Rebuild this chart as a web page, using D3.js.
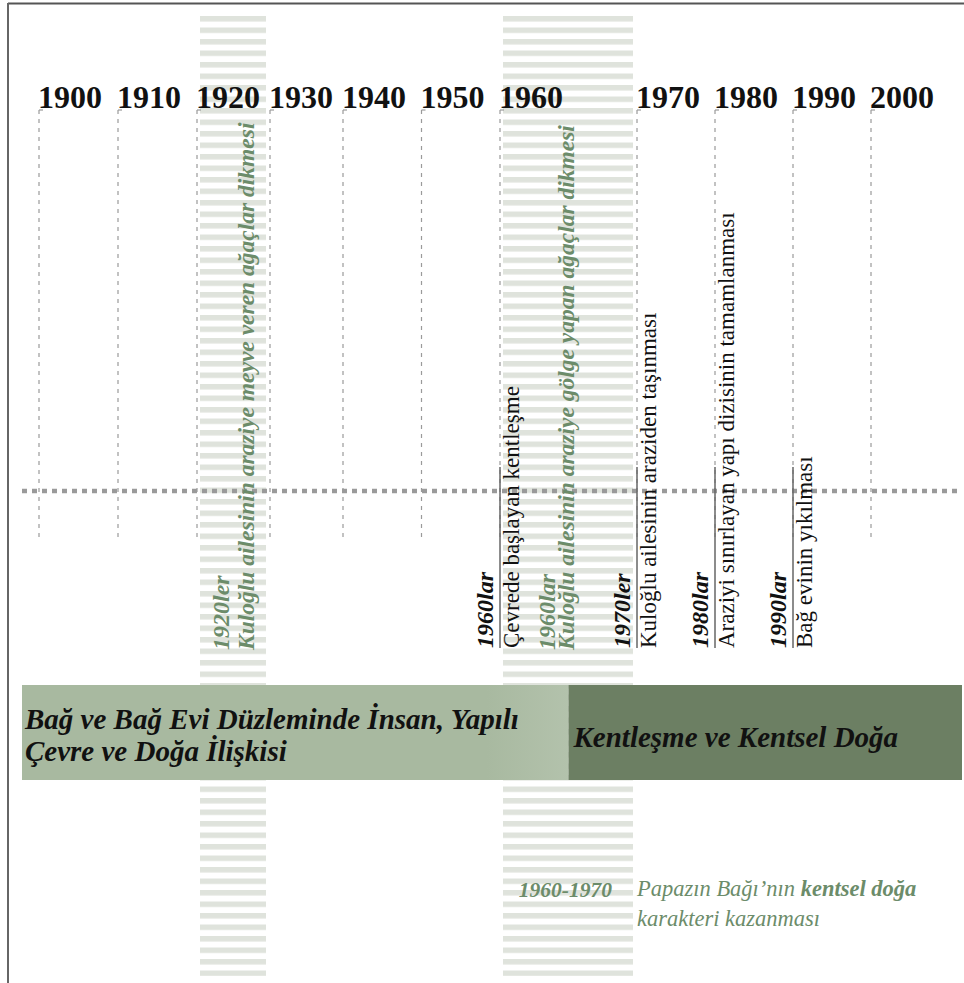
<!DOCTYPE html>
<html>
<head>
<meta charset="utf-8">
<script src="https://cdn.jsdelivr.net/npm/d3@7"></script>
<style>
  html, body { margin: 0; padding: 0; background: #fff; }
  svg { display: block; }
  text { font-family: 'Liberation Serif', 'Times New Roman', serif; }
</style>
</head>
<body>
<svg id="chart" width="964" height="983"></svg>
<script>
// decade ticks across the top
const years = [1900, 1910, 1920, 1930, 1940, 1950, 1960, 1970, 1980, 1990, 2000]

// striped decades
const bandStarts = [1920, 1960]
const bandEnds = [1930, 1970]

// black events (below the dotted axis)
const eventYears = [1960, 1970, 1980, 1990]
const eventLabels = ['1960lar', '1970ler', '1980lar', '1990lar']
const eventTexts = [
  'Çevrede başlayan kentleşme',
  'Kuloğlu ailesinin araziden taşınması',
  'Araziyi sınırlayan yapı dizisinin tamamlanması',
  'Bağ evinin yıkılması',
]

// green (planting) events
const plantYears = [1920, 1960]
const plantLabels = ['1920ler', '1960lar']
const plantTexts = [
  'Kuloğlu ailesinin araziye meyve veren ağaçlar dikmesi',
  'Kuloğlu ailesinin araziye gölge yapan ağaçlar dikmesi',
]

// two phases
const phaseSplitYear = 1965
const phaseLines = [
  ['Bağ ve Bağ Evi Düzleminde İnsan, Yapılı', 'Çevre ve Doğa İlişkisi'],
  ['Kentleşme ve Kentsel Doğa'],
]

// note at the bottom
const noteYears = '1960-1970'
const notePlain = 'Papazın Bağı’nın '
const noteBold = 'kentsel doğa'
const noteLine2 = 'karakteri kazanması'

const GREEN = '#6c8c6a'
const svg = d3.select('#chart')

// the 1960s get more room than the other decades
const x = d3.scaleLinear()
  .domain([1900, 1920, 1940, 1960, 1970, 2000])
  .range([39, 197, 343, 500, 637, 871])

const axisY = 491
const lineTop = 110
const lineBottom = 540
const eventTop = 467
const eventBottom = 648

/* frame */
svg.append('line').attr('x1', 8).attr('x2', 964).attr('y1', 3.5).attr('y2', 3.5)
  .attr('stroke', '#555').attr('stroke-width', 2)
svg.append('line').attr('x1', 8).attr('x2', 8).attr('y1', 3).attr('y2', 983)
  .attr('stroke', '#666').attr('stroke-width', 2)

/* stripes */
const defs = svg.append('defs')
const pat = defs.append('pattern')
  .attr('id', 'stripes')
  .attr('patternUnits', 'userSpaceOnUse')
  .attr('width', 10).attr('height', 11.5)
  .attr('y', 16)
pat.append('rect').attr('width', 10).attr('height', 5.5).attr('fill', '#dfe3dc')

svg.append('g').selectAll('rect')
  .data(bandStarts)
  .join('rect')
  .attr('x', (d) => x(d) + 3)
  .attr('width', (d, i) => x(bandEnds[i]) - 4 - (x(d) + 3))
  .attr('y', 16)
  .attr('height', 960)
  .attr('fill', 'url(#stripes)')

/* decade lines and labels */
const ticks = svg.append('g')
ticks.selectAll('line.grid')
  .data(years)
  .join('line')
  .attr('class', 'grid')
  .attr('x1', (d) => x(d)).attr('x2', (d) => x(d))
  .attr('y1', lineTop).attr('y2', lineBottom)
  .attr('stroke', '#9a9a9a')
  .attr('stroke-width', 1.2)
  .attr('stroke-dasharray', '4 5')
ticks.selectAll('line.corner')
  .data(years)
  .join('line')
  .attr('class', 'corner')
  .attr('x1', (d) => x(d)).attr('x2', (d) => x(d) + 4)
  .attr('y1', lineTop).attr('y2', lineTop)
  .attr('stroke', '#9a9a9a')
  .attr('stroke-width', 1.2)
ticks.selectAll('text')
  .data(years)
  .join('text')
  .attr('x', (d) => x(d) - 1)
  .attr('y', 108)
  .attr('font-size', 32)
  .attr('font-weight', 'bold')
  .attr('fill', '#111')
  .text((d) => d)

/* dotted axis */
svg.append('line')
  .attr('x1', 22).attr('x2', 960)
  .attr('y1', axisY).attr('y2', axisY)
  .attr('stroke', '#9a9a9a')
  .attr('stroke-width', 4.5)
  .attr('stroke-dasharray', '5 5')

/* rotated text helper */
const vtext = (g, bx, by, str, opts) =>
  g.append('text')
    .attr('transform', `translate(${bx},${by}) rotate(-90)`)
    .attr('font-size', opts.size)
    .attr('font-weight', opts.bold ? 'bold' : 'normal')
    .attr('font-style', opts.italic ? 'italic' : 'normal')
    .attr('fill', opts.fill)
    .text(str)

/* green planting events */
const plants = svg.append('g')
plantYears.forEach((yr, i) => {
  const shared = eventYears.includes(yr)
  const lx = x(yr) + (shared ? 55 : 32)
  const gap = shared ? 19 : 25
  vtext(plants, lx, 650, plantLabels[i], {size: 24, bold: true, italic: true, fill: GREEN})
  vtext(plants, lx + gap, 650, plantTexts[i], {size: 23.5, bold: true, italic: true, fill: GREEN})
})

/* black events */
const events = svg.append('g')
events.selectAll('line')
  .data(eventYears)
  .join('line')
  .attr('x1', (d) => x(d)).attr('x2', (d) => x(d))
  .attr('y1', eventTop).attr('y2', eventBottom)
  .attr('stroke', '#666')
  .attr('stroke-width', 1.5)
eventYears.forEach((yr, i) => {
  vtext(events, x(yr) - 7, eventBottom, eventLabels[i], {size: 24, bold: true, italic: true, fill: '#111'})
  vtext(events, x(yr) + 19, eventBottom, eventTexts[i], {size: 23, fill: '#111'})
})

/* phase bands */
const bandTop = 685
const bandBottom = 780
const phaseX = [22, x(phaseSplitYear), 962]
const grad = defs.append('linearGradient').attr('id', 'fade')
grad.append('stop').attr('offset', '0%').attr('stop-color', '#a8b9a0')
grad.append('stop').attr('offset', '85%').attr('stop-color', '#a8b9a0')
grad.append('stop').attr('offset', '100%').attr('stop-color', '#b3c2ac')
const phases = svg.append('g')
phases.selectAll('rect')
  .data(phaseLines)
  .join('rect')
  .attr('x', (d, i) => phaseX[i])
  .attr('width', (d, i) => phaseX[i + 1] - phaseX[i])
  .attr('y', bandTop)
  .attr('height', bandBottom - bandTop)
  .attr('fill', (d, i) => (i === 0 ? 'url(#fade)' : '#6c7f63'))
phases.selectAll('text')
  .data(phaseLines)
  .join('text')
  .attr('x', (d, i) => phaseX[i] + (i === 0 ? 3 : 5))
  .attr('y', (d) => (d.length > 1 ? 729 : 747))
  .attr('font-size', 29)
  .attr('font-weight', 'bold')
  .attr('font-style', 'italic')
  .attr('fill', '#111')
  .selectAll('tspan')
  .data((d) => d)
  .join('tspan')
  .attr('x', function () { return d3.select(this.parentNode).attr('x') })
  .attr('dy', (d, j) => (j === 0 ? 0 : 32))
  .text((d) => d)

/* bottom note */
const note = svg.append('g')
  .attr('fill', GREEN)
  .attr('font-size', 22.5)
  .attr('font-style', 'italic')
note.append('text')
  .attr('x', x(1970) - 25)
  .attr('y', 897)
  .attr('text-anchor', 'end')
  .attr('font-weight', 'bold')
  .attr('font-size', 21.5)
  .text(noteYears)
const nt = note.append('text').attr('x', x(1970)).attr('y', 896)
nt.append('tspan').text(notePlain)
nt.append('tspan').attr('font-weight', 'bold').text(noteBold)
note.append('text').attr('x', x(1970)).attr('y', 926).text(noteLine2)
</script>
</body>
</html>
